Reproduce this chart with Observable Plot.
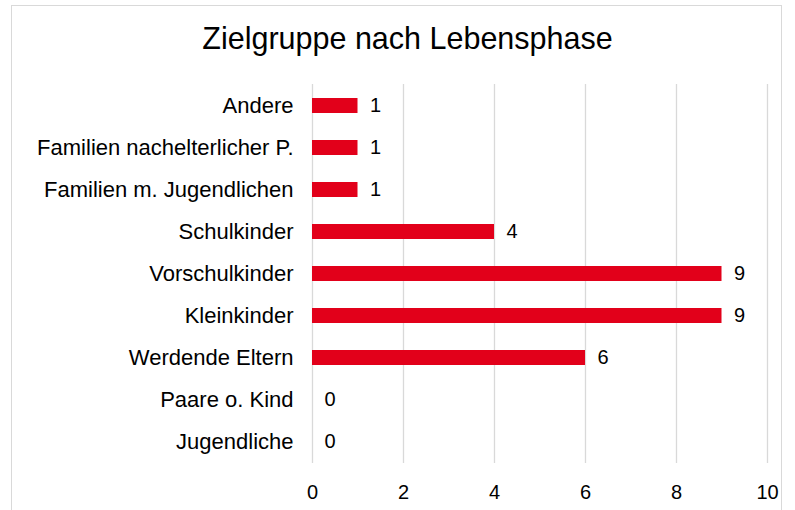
<!DOCTYPE html>
<html>
<head>
<meta charset="utf-8">
<script src="https://cdn.jsdelivr.net/npm/d3@7"></script>
<script src="https://cdn.jsdelivr.net/npm/@observablehq/plot@0.6"></script>
<style>
  html, body { margin: 0; padding: 0; background: #fff; }
  #wrap { position: relative; width: 795px; height: 510px; overflow: hidden; font-family: "Liberation Sans", Arial, sans-serif; }
  #frame { position: absolute; left: 11px; top: 5px; width: 771px; height: 600px; border: 1px solid #d9d9d9; box-sizing: border-box; }
  #title { position: absolute; left: 0; top: 21px; width: 795px; padding-left: 20px; box-sizing: border-box; text-align: center; font-size: 30.5px; color: #000; line-height: normal; }
  #chart { position: absolute; left: 0; top: 70px; }
</style>
</head>
<body>
<div id="wrap">
  <div id="frame"></div>
  <div id="title">Zielgruppe nach Lebensphase</div>
  <div id="chart"></div>
</div>
<script>
const categories = ["Andere", "Familien nachelterlicher P.", "Familien m. Jugendlichen", "Schulkinder", "Vorschulkinder", "Kleinkinder", "Werdende Eltern", "Paare o. Kind", "Jugendliche"];
const values = [1, 1, 1, 4, 9, 9, 6, 0, 0];
const xTicks = [0, 2, 4, 6, 8, 10];

const data = categories.map((c, i) => ({category: c, value: values[i]}));

const chart = Plot.plot({
  width: 795,
  height: 440,
  marginTop: 14,
  marginBottom: 47,
  marginLeft: 312,
  marginRight: 28,
  style: { fontFamily: "'Liberation Sans', Arial, sans-serif", fontSize: "20px", color: "#000", background: "transparent" },
  x: { domain: [0, 10], label: null },
  y: { domain: categories, paddingInner: 0.64, paddingOuter: 0.32, label: null },
  marks: [
    Plot.gridX(xTicks, { stroke: "#d9d9d9", strokeOpacity: 1, strokeWidth: 1.3 }),
    Plot.barX(data, { x: "value", y: "category", fill: "#e2001a" }),
    Plot.text(data, { x: "value", y: "category", text: d => String(d.value), textAnchor: "start", dx: 12, fontSize: 20, fill: "#000" }),
    Plot.axisX(xTicks, { tickSize: 0, tickPadding: 21, fontSize: 20, label: null }),
    Plot.axisY({ tickSize: 0, tickPadding: 19, fontSize: 22, label: null })
  ]
});
document.getElementById("chart").appendChild(chart);
</script>
</body>
</html>
